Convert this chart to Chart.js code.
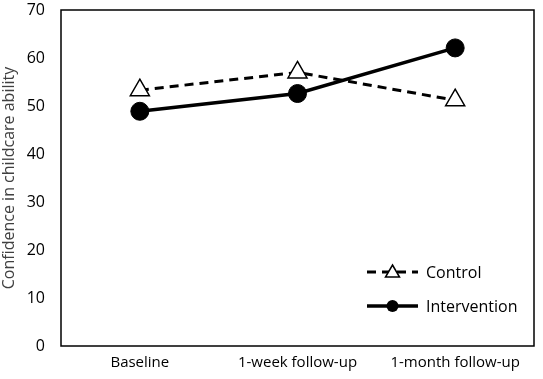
<!DOCTYPE html>
<html>
<head>
<meta charset="utf-8">
<script src="https://cdn.jsdelivr.net/npm/chart.js@4"></script>
<style>
  html, body { margin: 0; padding: 0; background: #fff; }
  #wrap { width: 543px; height: 379px; }
</style>
</head>
<body>
<div id="wrap"><canvas id="confChart" width="543" height="379"></canvas></div>
<script>
// time points and mean scores
var timePoints = ['Baseline', '1-week follow-up', '1-month follow-up'];
var controlScores = [53.3, 57.0, 51.2];
var interventionScores = [48.9, 52.6, 62.1];
var yTicks = [0, 10, 20, 30, 40, 50, 60, 70];

var fontFam = "'Open Sans', 'Liberation Sans', sans-serif";

// draws the box round the plot and the legend in the lower right
var boxAndLegend = {
  id: 'boxAndLegend',
  afterDraw: function(chart) {
    var ctx = chart.ctx;
    var a = chart.chartArea;
    ctx.save();
    ctx.strokeStyle = '#000';
    ctx.lineWidth = 1.5;
    ctx.strokeRect(a.left, a.top, a.right - a.left, a.bottom - a.top);

    var items = chart.data.datasets;
    var x0 = 367, x1 = 418;
    var rows = [272, 306];
    ctx.font = '16px ' + fontFam;
    ctx.textBaseline = 'middle';
    items.forEach(function(ds, i) {
      var y = rows[i];
      ctx.beginPath();
      ctx.setLineDash(ds.borderDash || []);
      ctx.lineWidth = ds.borderWidth;
      ctx.strokeStyle = '#000';
      ctx.moveTo(x0, y);
      ctx.lineTo(x1, y);
      ctx.stroke();
      ctx.setLineDash([]);
      var cx = (x0 + x1) / 2;
      if (ds.pointStyle === 'triangle') {
        ctx.beginPath();
        ctx.moveTo(cx, y - 7);
        ctx.lineTo(cx + 7, y + 5);
        ctx.lineTo(cx - 7, y + 5);
        ctx.closePath();
        ctx.fillStyle = '#fff';
        ctx.fill();
        ctx.lineWidth = 1.5;
        ctx.stroke();
      } else {
        ctx.beginPath();
        ctx.arc(cx, y, 6, 0, Math.PI * 2);
        ctx.fillStyle = '#000';
        ctx.fill();
      }
      ctx.fillStyle = '#000';
      ctx.fillText(ds.label, x1 + 8, y + 1);
    });
    ctx.restore();
  }
};

var chartdata = {
  labels: timePoints,
  datasets: [
    {
      label: 'Control',
      data: controlScores,
      borderColor: '#000',
      borderWidth: 3,
      borderDash: [9, 6],
      pointStyle: 'triangle',
      pointRadius: 11,
      pointBackgroundColor: '#fff',
      pointBorderColor: '#000',
      pointBorderWidth: 1.5,
      tension: 0
    },
    {
      label: 'Intervention',
      data: interventionScores,
      borderColor: '#000',
      borderWidth: 3.5,
      pointStyle: 'circle',
      pointRadius: 9,
      pointBackgroundColor: '#000',
      pointBorderColor: '#000',
      pointBorderWidth: 1,
      tension: 0
    }
  ]
};

new Chart(document.getElementById('confChart'), {
  type: 'line',
  data: chartdata,
  plugins: [boxAndLegend],
  options: {
    responsive: false,
    animation: false,
    layout: { autoPadding: false, padding: { top: 10, right: 9, left: 0, bottom: 0 } },
    plugins: {
      legend: { display: false },
      tooltip: { enabled: false }
    },
    scales: {
      x: {
        offset: true,
        grid: { display: false, drawTicks: false },
        border: { display: false },
        ticks: {
          color: '#000',
          padding: 8,
          maxRotation: 0,
          autoSkip: false,
          font: { family: fontFam, size: 15 }
        },
        afterFit: function(s) {
          s.height = 33;
          s.paddingLeft = 0;
          s.paddingRight = 0;
        }
      },
      y: {
        min: 0,
        max: 70,
        grid: { display: false, drawTicks: false },
        border: { display: false },
        afterBuildTicks: function(s) {
          s.ticks = yTicks.map(function(v) { return { value: v }; });
        },
        ticks: {
          color: '#000',
          padding: 16,
          font: { family: fontFam, size: 16 }
        },
        title: {
          display: true,
          text: 'Confidence in childcare ability',
          color: '#404040',
          padding: 0,
          font: { family: fontFam, size: 16 }
        },
        afterFit: function(s) {
          s.width = 61;
          s.paddingTop = 0;
          s.paddingBottom = 0;
        }
      }
    }
  }
});
</script>
</body>
</html>
